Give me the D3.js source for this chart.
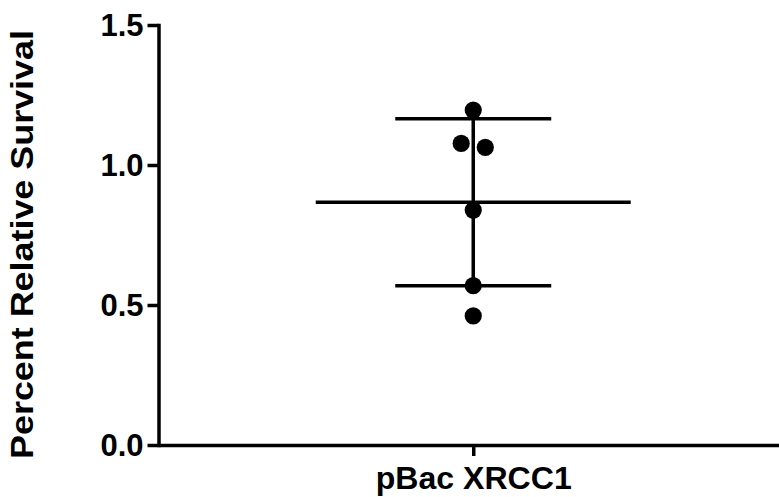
<!DOCTYPE html>
<html>
<head>
<meta charset="utf-8">
<script src="https://cdn.jsdelivr.net/npm/d3@7"></script>
<style>
  html, body { margin: 0; padding: 0; background: #fff; }
  svg { display: block; font-family: "Liberation Sans", Arial, sans-serif; }
</style>
</head>
<body>
<svg id="chart" width="779" height="497"></svg>
<script>
// ---- data ----
const categories = ["pBac XRCC1"];
const values = [1.196, 1.077, 1.063, 0.839, 0.569, 0.461];
const means = [0.867];
const sds = [0.298];
const yTicks = [0.0, 0.5, 1.0, 1.5];
const yTitle = "Percent Relative Survival";

// ---- layout ----
const W = 779, H = 497;
const axisX = 158.5, axisY = 445, topY = 25;
const lw = 3.5;
const r = 8.6;

const svg = d3.select("#chart");

const y = d3.scaleLinear().domain([0, 1.5]).range([axisY, topY]);
const x = d3.scalePoint().domain(categories).range([axisX, 788]).padding(0.5);

// Y axis
const yAxis = svg.append("g")
  .attr("transform", `translate(${axisX},0)`)
  .call(d3.axisLeft(y).tickValues(yTicks).tickFormat(d3.format(".1f")).tickSize(11).tickSizeOuter(0).tickPadding(4));
yAxis.select(".domain").attr("stroke", "#000").attr("stroke-width", lw).attr("stroke-linecap", "square");
yAxis.selectAll(".tick line").attr("stroke", "#000").attr("stroke-width", lw);
yAxis.selectAll(".tick text")
  .attr("fill", "#000")
  .style("font-size", "31px")
  .style("font-weight", "bold")
  .attr("dy", "0.34em");

// X axis
const xAxis = svg.append("g")
  .attr("transform", `translate(0,${axisY})`)
  .call(d3.axisBottom(x).tickSize(11).tickSizeOuter(0));
xAxis.select(".domain").attr("stroke", "#000").attr("stroke-width", lw);
xAxis.selectAll(".tick line").attr("stroke", "#000").attr("stroke-width", lw);
xAxis.selectAll(".tick text")
  .attr("fill", "#000")
  .attr("y", 44)
  .attr("dy", 0)
  .style("font-size", "31px")
  .style("font-weight", "bold")
  .attr("textLength", 196)
  .attr("lengthAdjust", "spacingAndGlyphs");

// Y title
svg.append("text")
  .attr("transform", `translate(33,${244.5}) rotate(-90)`)
  .attr("text-anchor", "middle")
  .style("font-size", "31px")
  .style("font-weight", "bold")
  .attr("fill", "#000")
  .attr("textLength", 429)
  .attr("lengthAdjust", "spacingAndGlyphs")
  .text(yTitle);

// Mean and SD
const cx = x(categories[0]);
const g = svg.append("g").attr("stroke", "#000").attr("stroke-width", lw);
const m = means[0], s = sds[0];
g.append("line").attr("x1", cx).attr("x2", cx).attr("y1", y(m + s)).attr("y2", y(m - s));
g.append("line").attr("x1", cx - 157.5).attr("x2", cx + 157.5).attr("y1", y(m)).attr("y2", y(m));
g.append("line").attr("x1", cx - 78).attr("x2", cx + 78).attr("y1", y(m + s)).attr("y2", y(m + s));
g.append("line").attr("x1", cx - 78).attr("x2", cx + 78).attr("y1", y(m - s)).attr("y2", y(m - s));

// Points with simple dodge for overlapping values
const pts = values.map(v => ({v, py: y(v), dx: 0})).sort((a, b) => b.v - a.v);
let clusters = [], cur = [pts[0]];
for (let i = 1; i < pts.length; i++) {
  if (pts[i].py - cur[cur.length - 1].py < 2 * r) cur.push(pts[i]);
  else { clusters.push(cur); cur = [pts[i]]; }
}
clusters.push(cur);
const spacing = 2 * r * 1.4;
clusters.forEach(c => c.forEach((p, i) => p.dx = (i - (c.length - 1) / 2) * spacing));

svg.append("g").selectAll("circle").data(pts).join("circle")
  .attr("cx", d => cx + d.dx)
  .attr("cy", d => d.py)
  .attr("r", r)
  .attr("fill", "#000");
</script>
</body>
</html>
